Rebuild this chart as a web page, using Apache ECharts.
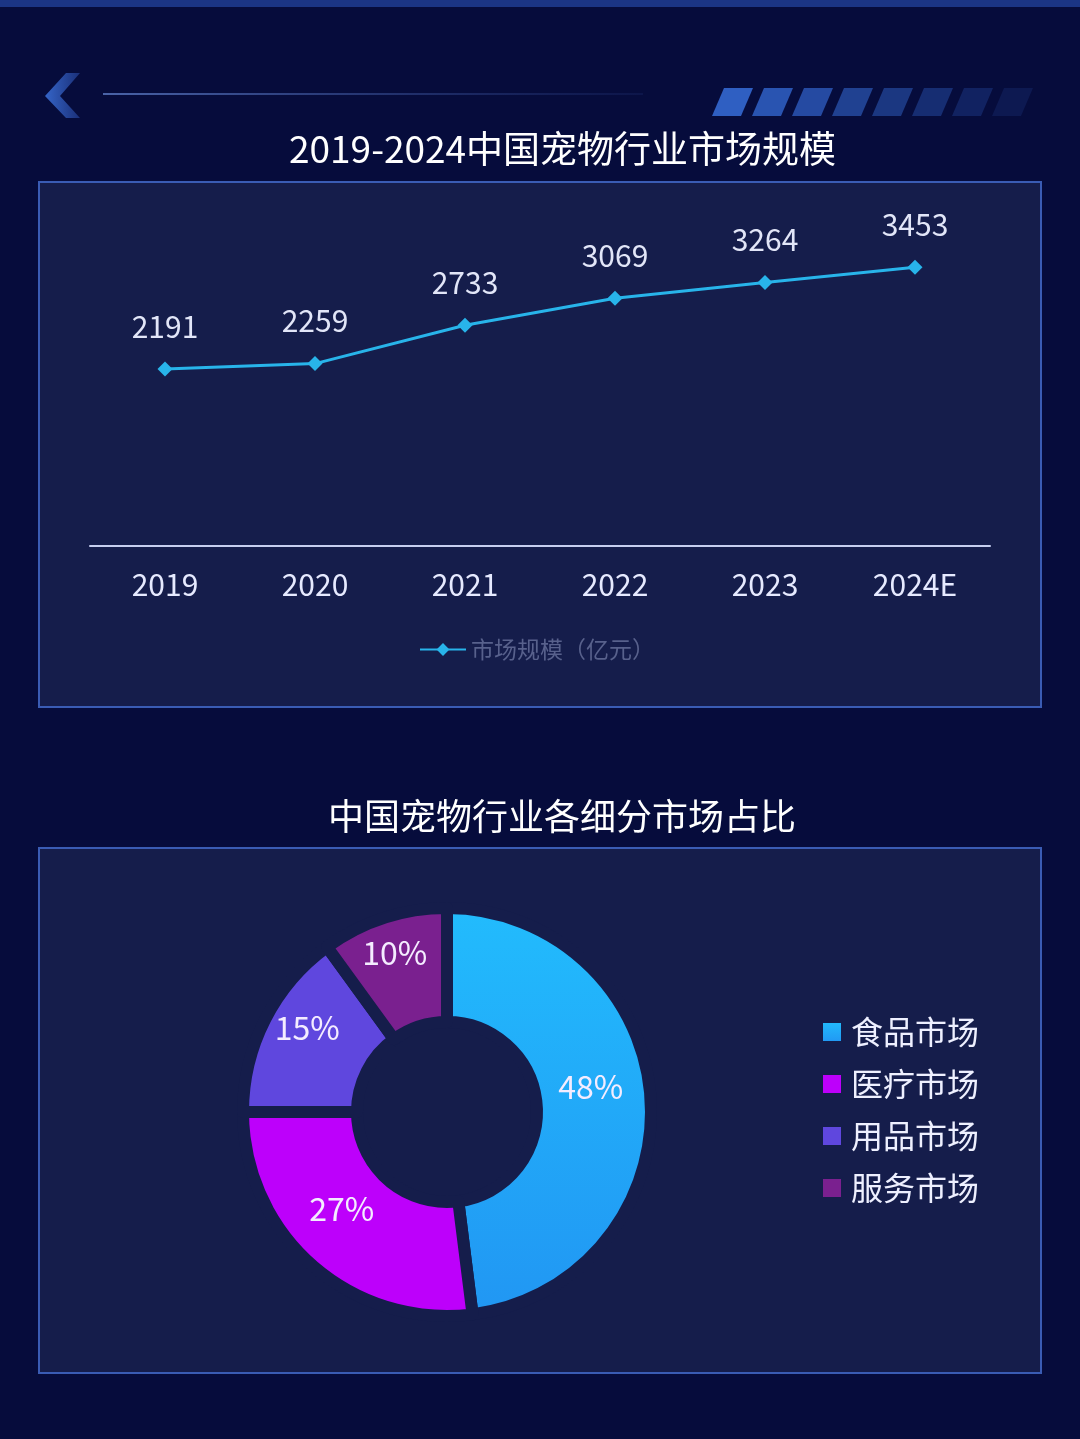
<!DOCTYPE html>
<html>
<head>
<meta charset="utf-8">
<script src="https://cdn.jsdelivr.net/npm/echarts@6/dist/echarts.min.js"></script>
<style>
 html, body { margin: 0; padding: 0; background: #060c3c; }
 #main { width: 1080px; height: 1439px; }
</style>
</head>
<body>
<div id="main"></div>
<script>
const years = ['2019', '2020', '2021', '2022', '2023', '2024E'];
const marketSize = [2191, 2259, 2733, 3069, 3264, 3453];
const lineName = '市场规模（亿元）';

const segments = ['食品市场', '医疗市场', '用品市场', '服务市场'];
const segmentShare = [48, 27, 15, 10];

const FONT = '"Noto Sans CJK SC", "Noto Sans", sans-serif';
const panelFill = '#151d4b';
const panelStroke = '#3a5cb4';

const segmentColors = [
 new echarts.graphic.LinearGradient(0, 0, 0, 1, [
  { offset: 0, color: '#22bcfd' },
  { offset: 1, color: '#2196f3' },
 ]),
 '#bd00fb',
 '#5f47de',
 '#7a208f',
];

// top decoration: slanted bars fading out
const bars = [];
for (let i = 0; i < 8; i++) {
 const x = 712 + i * 40;
 bars.push({
  type: 'polygon',
  shape: { points: [[x, 116], [x + 29, 116], [x + 41, 88], [x + 12, 88]] },
  style: { fill: '#2f5fc2', opacity: 1 - i * 0.12 },
 });
}

const chart = echarts.init(document.getElementById('main'), null, { renderer: 'canvas' });

chart.setOption({
 backgroundColor: '#060c3c',
 animation: false,
 textStyle: { fontFamily: FONT },
 graphic: [
  { type: 'rect', shape: { x: 0, y: 0, width: 1080, height: 7 }, style: { fill: '#1b3585' }, z: -10 },
  {
   type: 'polygon',
   shape: { points: [[80, 73], [66, 73], [45, 96], [66, 118], [80, 118], [60, 96]] },
   style: {
    fill: new echarts.graphic.LinearGradient(0, 0, 1, 0, [
     { offset: 0, color: '#3565c8' },
     { offset: 1, color: '#1a2f78' },
    ]),
   },
   z: -10,
  },
  {
   type: 'rect',
   shape: { x: 103, y: 93, width: 540, height: 2 },
   style: {
    fill: new echarts.graphic.LinearGradient(0, 0, 1, 0, [
     { offset: 0, color: '#4a64a8' },
     { offset: 1, color: 'rgba(40,60,130,0.2)' },
    ]),
   },
   z: -10,
  },
  ...bars.map((b) => ({ ...b, z: -10 })),
  {
   type: 'rect',
   shape: { x: 39, y: 182, width: 1002, height: 525 },
   style: { fill: panelFill, stroke: panelStroke, lineWidth: 2 },
   z: -10,
  },
  {
   type: 'rect',
   shape: { x: 39, y: 848, width: 1002, height: 525 },
   style: { fill: panelFill, stroke: panelStroke, lineWidth: 2 },
   z: -10,
  },
 ],
 title: [
  {
   text: '2019-2024中国宠物行业市场规模',
   left: 289,
   top: 130,
   padding: 0,
   textStyle: { color: '#ffffff', fontSize: 37, fontWeight: 'normal', fontFamily: FONT },
  },
  {
   text: '中国宠物行业各细分市场占比',
   left: 328,
   top: 798,
   padding: 0,
   textStyle: { color: '#ffffff', fontSize: 36, fontWeight: 'normal', fontFamily: FONT },
  },
 ],
 legend: [
  {
   data: [lineName],
   left: 414,
   top: 633,
   itemWidth: 46,
   itemHeight: 16,
   itemGap: 6,
   textStyle: { color: '#58618c', fontSize: 23, fontFamily: FONT },
  },
  {
   data: segments,
   orient: 'vertical',
   left: 816,
   top: 1009,
   icon: 'rect',
   itemWidth: 20,
   itemHeight: 20,
   itemGap: 16,
   textStyle: { color: '#eef0ff', fontSize: 32, lineHeight: 36, fontFamily: FONT, padding: [0, 0, 0, 4] },
  },
 ],
 grid: { left: 90, right: 90, top: 223, height: 323 },
 xAxis: {
  type: 'category',
  data: years,
  axisLine: { lineStyle: { color: '#c6cef0', width: 2 } },
  axisTick: { show: false },
  axisLabel: { color: '#e6eaff', fontSize: 30, margin: 24, fontFamily: FONT },
 },
 yAxis: { type: 'value', min: 0, max: 4000, show: false },
 series: [
  {
   name: lineName,
   type: 'line',
   data: marketSize,
   symbol: 'diamond',
   symbolSize: 15,
   lineStyle: { color: '#28b4ea', width: 3 },
   itemStyle: { color: '#28b4ea' },
   label: {
    show: true,
    position: 'top',
    distance: 20,
    color: '#e2e6f8',
    fontSize: 30,
    fontFamily: FONT,
   },
  },
  {
   type: 'pie',
   center: [447, 1112],
   radius: [90, 204],
   startAngle: 90,
   data: segments.map((name, i) => ({
    name,
    value: segmentShare[i],
    itemStyle: { color: segmentColors[i] },
   })),
   itemStyle: {
    borderColor: panelFill,
    borderWidth: 12,
   },
   label: {
    show: true,
    position: 'inside',
    formatter: '{c}%',
    offset: [-6, -16],
    color: '#f4ecff',
    fontSize: 32,
    fontFamily: FONT,
   },
   labelLine: { show: false },
   emphasis: { disabled: true },
  },
 ],
});
</script>
</body>
</html>
